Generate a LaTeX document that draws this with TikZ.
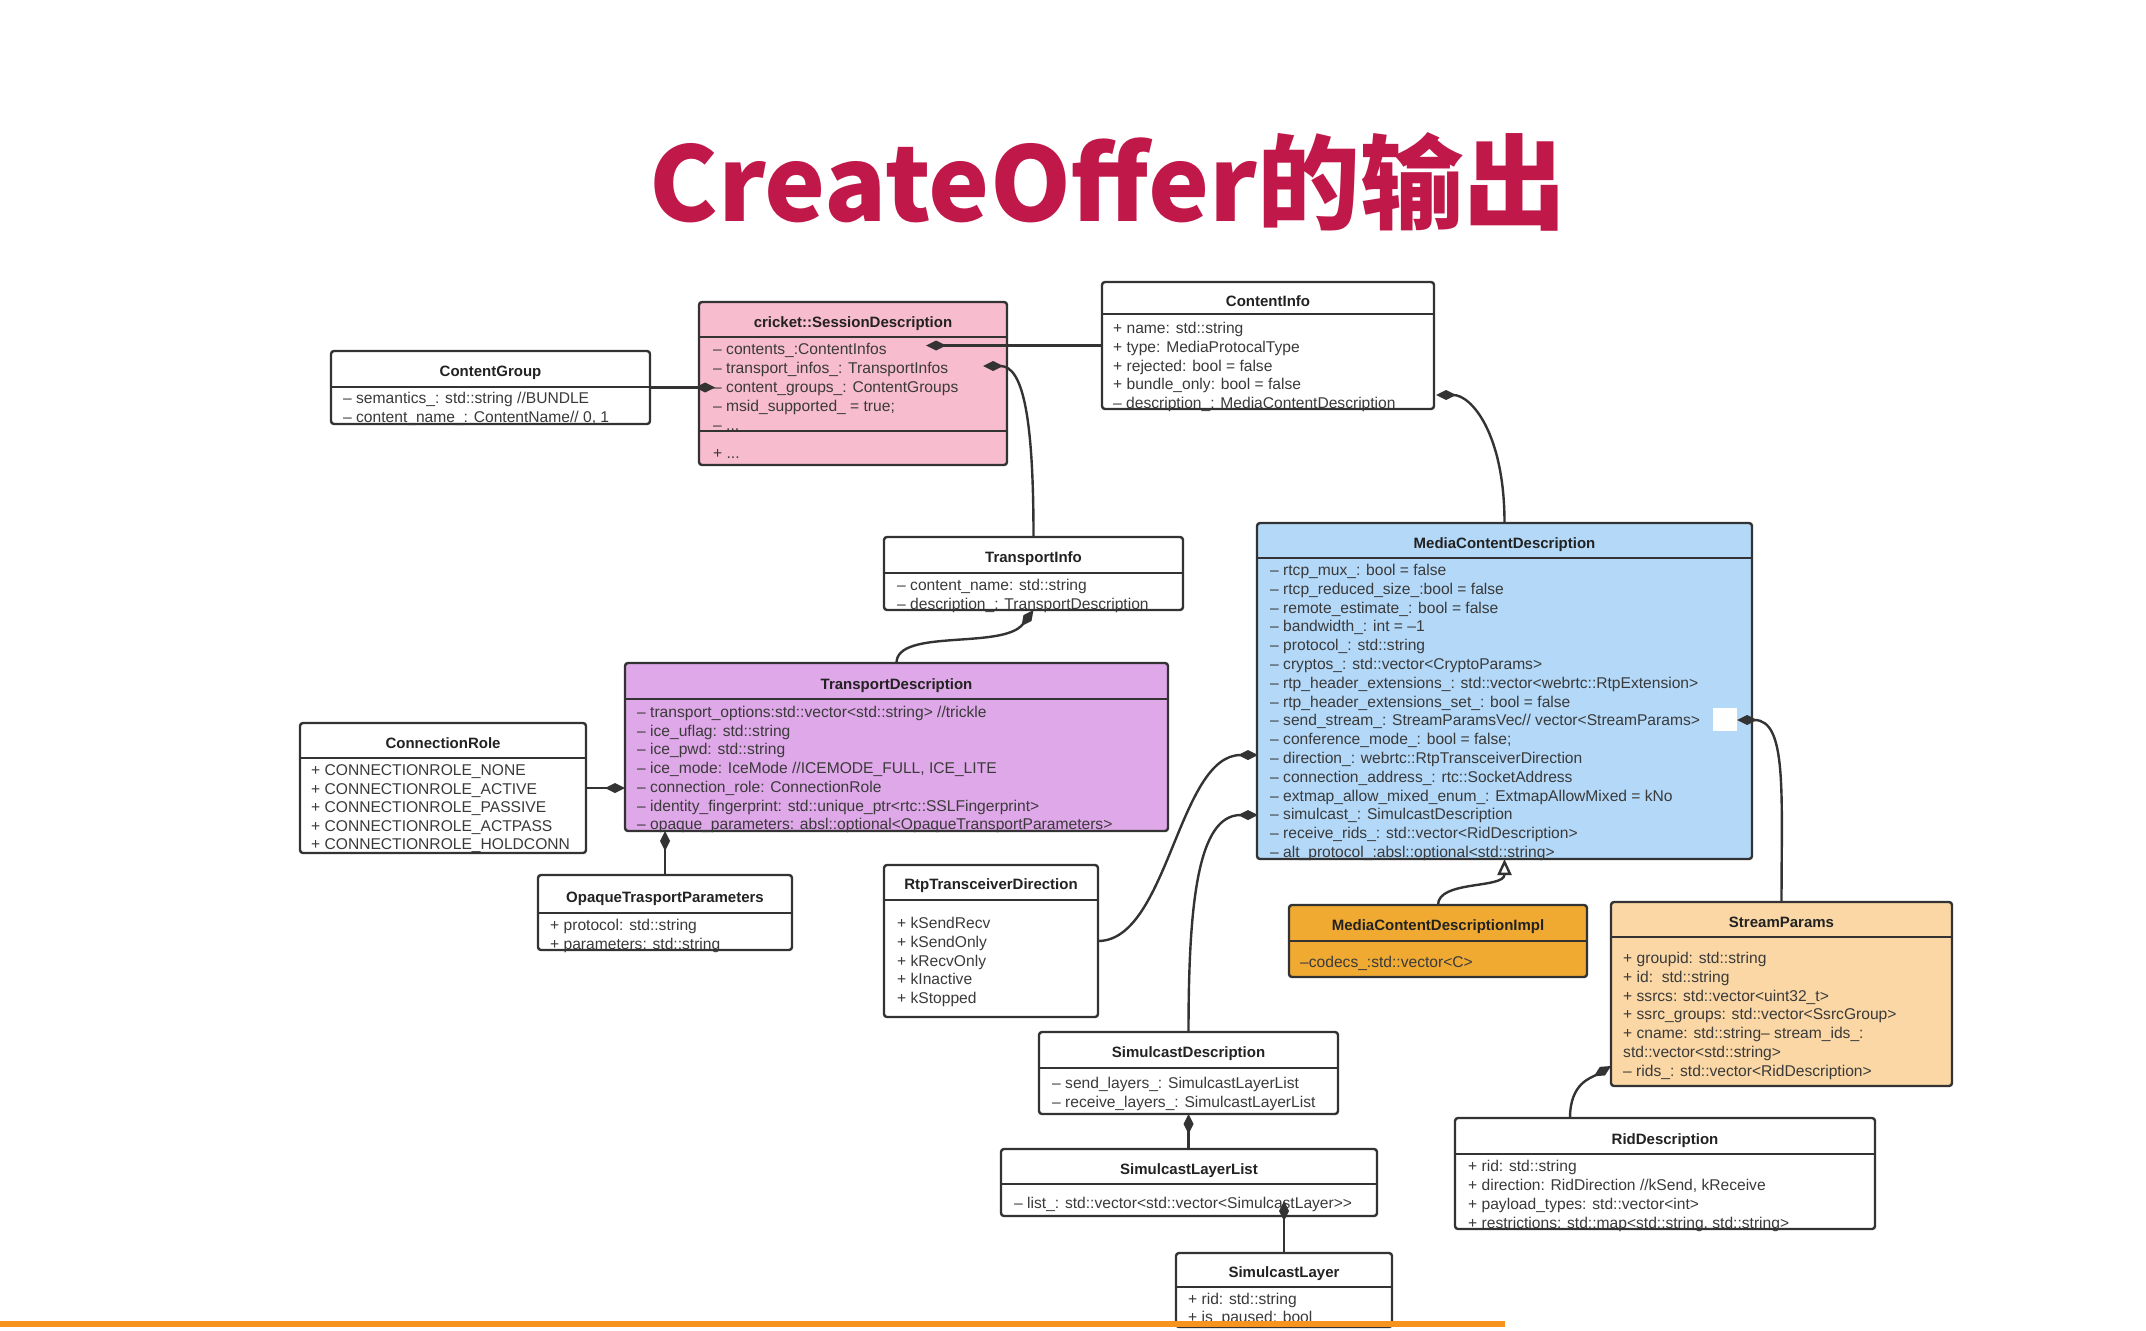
\documentclass[tikz,border=0pt]{standalone}
\usepackage{fontspec}
\setmainfont{Liberation Sans}
\newfontfamily\cjk{Noto Sans CJK SC}
\usetikzlibrary{arrows.meta}
\definecolor{linec}{HTML}{333333}
\definecolor{txtc}{HTML}{3A3A3A}
\definecolor{ttlc}{HTML}{222222}
\definecolor{titlered}{HTML}{C1184A}
\definecolor{sdfill}{HTML}{F7BCCE}
\definecolor{tdfill}{HTML}{DFA8E8}
\definecolor{mcdfill}{HTML}{B3D8F8}
\definecolor{implfill}{HTML}{F0AA32}
\definecolor{spfill}{HTML}{FAD7A5}
\definecolor{orangeline}{HTML}{F7941D}
\tikzset{
 classbox/.style={draw=linec, line width=2.4pt, rounded corners=3pt, inner sep=0pt, outer sep=0pt},
 divline/.style={draw=linec, line width=2pt},
 titletext/.style={anchor=base, inner sep=0pt, text=ttlc, font=\bfseries\fontsize{15}{18}\selectfont},
 rowtext/.style={anchor=base west, inner sep=0pt, text=txtc, font=\fontsize{15.6}{18}\selectfont},
 conn/.style={draw=linec, line width=2.4pt},
 diam/.tip={Diamond[length=20pt,width=10pt]},
 inh/.tip={Triangle[open,length=16pt,width=14pt,fill=white]},
}
% name, x1, y1, x2, y2, ydiv, fill, title y, title
\newcommand\umlbox[9]{%
 \node[classbox, fill=#7, minimum width={#4-#2}, minimum height={#5-#3}] (#1) at ({(#2+#4)/2},{(#3+#5)/2}) {};
 \draw[divline] (#1.west |- 0,#6) -- (#1.east |- 0,#6);
 \node[titletext] (#1-title) at ({(#2+#4)/2},{#8+5.5}) {#9};
}
% name, x, first y, step, list
\newcommand\umlrows[5]{%
 \foreach \rowtxt [count=\i] in {#5} {\node[rowtext] (#1-r\i) at ({#2},{#3+5.5+#4*(\i-1)}) {\rowtxt};}
}
\begin{document}
\begin{tikzpicture}[x=1pt,y=-1pt]
\fill[white] (0,0) rectangle (2146,1330);
\useasboundingbox (0,0) rectangle (2146,1330);

\node[font=\cjk\bfseries\fontsize{103}{110}\selectfont, text=titlered, anchor=base, inner sep=0pt] (title) at (1108,221) {CreateOffer的输出};

% ContentGroup
\umlbox{cg}{331}{351}{650}{424}{387}{white}{371}{ContentGroup}
\umlrows{cg}{343}{398}{19}{{– semantics\_: std::string //BUNDLE},{– content\_name\_: ContentName// 0, 1}}

% SessionDescription
\umlbox{sd}{699}{302}{1007}{465}{337}{sdfill}{322}{cricket::SessionDescription}
\draw[divline] (sd.west |- 0,431) -- (sd.east |- 0,431);
\umlrows{sd}{713}{349}{19}{{– contents\_:ContentInfos},{– transport\_infos\_: TransportInfos},{– content\_groups\_: ContentGroups},{– msid\_supported\_ = true;},{– .{}.{}.}}
\node[rowtext] (sd-plus) at (713,458.5) {+ .{}.{}.};

% ContentInfo
\umlbox{ci}{1102}{282}{1434}{409}{314}{white}{301}{ContentInfo}
\umlrows{ci}{1113}{328}{18.8}{{+ name: std::string},{+ type: MediaProtocalType},{+ rejected: bool = false},{+ bundle\_only: bool = false},{– description\_: MediaContentDescription}}

% TransportInfo
\umlbox{ti}{884}{537}{1183}{610}{573}{white}{557}{TransportInfo}
\umlrows{ti}{897}{585}{18.5}{{– content\_name: std::string},{– description\_: TransportDescription}}

% TransportDescription
\umlbox{td}{625}{663}{1168}{831}{699}{tdfill}{684}{TransportDescription}
\umlrows{td}{637}{712}{18.7}{{– transport\_options:std::vector<std::string> //trickle},{– ice\_uflag: std::string},{– ice\_pwd: std::string},{– ice\_mode: IceMode //ICEMODE\_FULL, ICE\_LITE},{– connection\_role: ConnectionRole},{– identity\_fingerprint: std::unique\_ptr<rtc::SSLFingerprint>},{– opaque\_parameters: absl::optional<OpaqueTransportParameters>}}

% ConnectionRole
\umlbox{cr}{300}{723}{586}{853}{758}{white}{743}{ConnectionRole}
\umlrows{cr}{311}{770}{18.6}{{+ CONNECTIONROLE\_NONE},{+ CONNECTIONROLE\_ACTIVE},{+ CONNECTIONROLE\_PASSIVE},{+ CONNECTIONROLE\_ACTPASS},{+ CONNECTIONROLE\_HOLDCONN}}

% OpaqueTrasportParameters
\umlbox{op}{538}{875}{792}{950}{913}{white}{897}{OpaqueTrasportParameters}
\umlrows{op}{550}{925}{18.5}{{+ protocol: std::string},{+ parameters: std::string}}

% MediaContentDescription
\umlbox{mcd}{1257}{523}{1752}{859}{558}{mcdfill}{543}{MediaContentDescription}
\umlrows{mcd}{1270}{570}{18.8}{{– rtcp\_mux\_: bool = false},{– rtcp\_reduced\_size\_:bool = false},{– remote\_estimate\_: bool = false},{– bandwidth\_: int = –1},{– protocol\_: std::string},{– cryptos\_: std::vector<CryptoParams>},{– rtp\_header\_extensions\_: std::vector<webrtc::RtpExtension>},{– rtp\_header\_extensions\_set\_: bool = false},{– send\_stream\_: StreamParamsVec// vector<StreamParams>},{– conference\_mode\_: bool = false;},{– direction\_: webrtc::RtpTransceiverDirection},{– connection\_address\_: rtc::SocketAddress},{– extmap\_allow\_mixed\_enum\_: ExtmapAllowMixed = kNo},{– simulcast\_: SimulcastDescription},{– receive\_rids\_: std::vector<RidDescription>},{– alt\_protocol\_:absl::optional<std::string>}}
\fill[white] (1713,708) rectangle (1737,731);

% RtpTransceiverDirection
\umlbox{rtd}{884}{865}{1098}{1017}{900}{white}{884}{RtpTransceiverDirection}
\umlrows{rtd}{897}{923}{18.8}{{+ kSendRecv},{+ kSendOnly},{+ kRecvOnly},{+ kInactive},{+ kStopped}}

% SimulcastDescription
\umlbox{simd}{1039}{1032}{1338}{1114}{1068}{white}{1052}{SimulcastDescription}
\umlrows{simd}{1052}{1083}{19}{{– send\_layers\_: SimulcastLayerList},{– receive\_layers\_: SimulcastLayerList}}

% SimulcastLayerList
\umlbox{sll}{1001}{1149}{1377}{1216}{1184}{white}{1169}{SimulcastLayerList}
\umlrows{sll}{1014}{1203}{19}{{– list\_: std::vector<std::vector<SimulcastLayer>{}>}}

% SimulcastLayer
\umlbox{sl}{1176}{1253}{1392}{1327}{1287}{white}{1272}{SimulcastLayer}
\umlrows{sl}{1188}{1299}{18}{{+ rid: std::string},{+ is\_paused: bool}}

% MediaContentDescriptionImpl
\umlbox{mcdi}{1289}{905}{1587}{977}{941}{implfill}{925}{MediaContentDescriptionImpl}
\umlrows{mcdi}{1300}{962}{19}{{–codecs\_:std::vector<C>}}

% StreamParams
\umlbox{sp}{1611}{902}{1952}{1086}{937}{spfill}{922}{StreamParams}
\umlrows{sp}{1623}{958}{18.8}{{+ groupid: std::string},{+ id:~~std::string},{+ ssrcs: std::vector<uint32\_t>},{+ ssrc\_groups: std::vector<SsrcGroup>},{+ cname: std::string– stream\_ids\_:},{std::vector<std::string>},{– rids\_: std::vector<RidDescription>}}

% RidDescription
\umlbox{rd}{1455}{1118}{1875}{1229}{1154}{white}{1139}{RidDescription}
\umlrows{rd}{1468}{1166}{19}{{+ rid: std::string},{+ direction: RidDirection //kSend, kReceive},{+ payload\_types: std::vector<int>},{+ restrictions: std::map<std::string, std::string>}}

% connectors
\coordinate (sd-c) at (926,345.5);
\draw[conn,-diam] (ci.west) -- (sd-c);
\coordinate (sd-t) at (983,366);
\draw[conn,-diam] (ti.north) .. controls +(0,-120) and +(40,0) .. (sd-t);
\coordinate (sd-g) at (715,387.5);
\draw[conn,-diam] (cg.east) -- (sd-g);
\coordinate (ci-d) at (1436,395);
\draw[conn,-diam] (mcd.north) .. controls +(0,-90) and +(35,0) .. (ci-d);
\draw[conn,-diam] (td.north) .. controls +(0,-35) and +(-30,40) .. (ti.south);
\draw[conn,-diam] (cr.east) -- (cr.east -| td.west);
\draw[conn,-diam] (op.north) -- (op.north |- td.south);
\coordinate (mcd-dir) at (1258,755);
\draw[conn,-diam] (rtd.east) .. controls +(70,0) and +(-80,0) .. (mcd-dir);
\coordinate (mcd-sim) at (1258,815);
\draw[conn,-diam] (simd.north) .. controls +(0,-130) and +(-60,0) .. (mcd-sim);
\draw[conn,diam-] (simd.south) -- (simd.south |- sll.north);
\coordinate (sll-d) at (1284,1201);
\draw[conn,-diam] (sl.north) -- (sll-d);
\draw[conn,-inh] (mcdi.north) .. controls +(0,-25) and +(0,30) .. (mcd.south);
\coordinate (mcd-ss) at (1737,720);
\draw[conn,-diam] (sp.north) .. controls +(0,-110) and +(50,0) .. (mcd-ss);
\coordinate (rd-top) at (1570,1118);
\coordinate (sp-r) at (1611,1066);
\draw[conn,-diam] (rd-top) .. controls +(0,-35) and +(-20,12) .. (sp-r);

% bottom orange band
\fill[orangeline] (0,1321) rectangle (1505,1327);
\end{tikzpicture}
\end{document}
